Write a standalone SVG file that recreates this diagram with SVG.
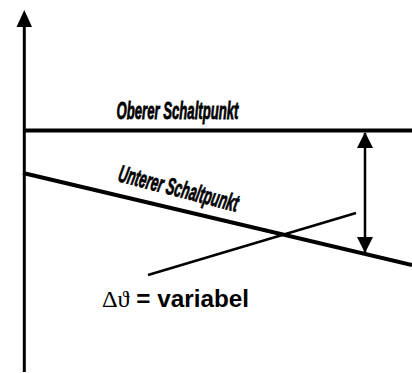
<svg xmlns="http://www.w3.org/2000/svg" width="412" height="373" viewBox="0 0 412 373">
<style>
.ln{stroke:#000;fill:none;stroke-linecap:butt}
.lbl{font-family:"Liberation Sans",Arial,sans-serif;font-style:italic;font-weight:bold;font-size:24px;fill:#000;stroke:#000;stroke-width:0.8}
.eq{font-family:"Liberation Sans",Arial,sans-serif;font-weight:bold;font-size:24px;fill:#000}
.sym{font-family:"Liberation Serif","DejaVu Serif",serif;font-weight:normal}
</style>
<defs>
<marker id="ah" markerUnits="userSpaceOnUse" markerWidth="16" markerHeight="16" viewBox="0 0 16 16" refX="15" refY="8" orient="auto-start-reverse">
<path d="M0,0 L16,8 L0,16 Z" fill="#000"/>
</marker>
</defs>
<rect width="412" height="373" fill="#fff"/>
<g id="axis">
<line class="ln" x1="24.3" y1="372" x2="24.3" y2="24" stroke-width="3"/>
<polygon points="24.3,10 16.5,27 32,27" fill="#000"/>
</g>
<g id="upper">
<line class="ln" x1="23" y1="130.5" x2="412" y2="130.5" stroke-width="4"/>
<text class="lbl" x="116.5" y="119" textLength="122" lengthAdjust="spacingAndGlyphs">Oberer Schaltpunkt</text>
</g>
<g id="lower">
<line class="ln" x1="23" y1="173" x2="412" y2="265" stroke-width="4"/>
<text class="lbl" transform="translate(117,181) rotate(14.5)" x="0" y="0" textLength="123" lengthAdjust="spacingAndGlyphs">Unterer Schaltpunkt</text>
</g>
<g id="label">
<text class="eq" x="102" y="307" textLength="147" lengthAdjust="spacingAndGlyphs"><tspan class="sym">Δϑ</tspan> = variabel</text>
</g>
<g id="connectors">
<line class="ln" x1="365" y1="133" x2="365" y2="252" stroke-width="2.5" marker-start="url(#ah)" marker-end="url(#ah)"/>
<line class="ln" x1="148" y1="275" x2="356" y2="213" stroke-width="2.5"/>
</g>
</svg>
